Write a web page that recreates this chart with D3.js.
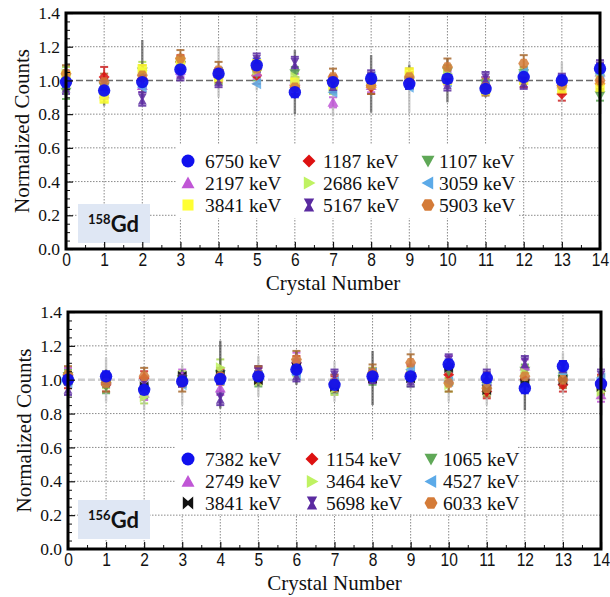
<!DOCTYPE html>
<html><head><meta charset="utf-8">
<script src="https://cdn.jsdelivr.net/npm/d3@7"></script>
<style>body{margin:0;background:#fff}svg{display:block}</style>
</head><body>
<script>
// ---------- DATA ----------
const crystals = [0,1,2,3,4,5,6,7,8,9,10,11,12,13,14];
const xTickValues = [0,1,2,3,4,5,6,7,8,9,10,11,12,13,14];
const yTickValues = [0.0,0.2,0.4,0.6,0.8,1.0,1.2,1.4];
const yMinorTicks = [0.05,0.1,0.15,0.25,0.3,0.35,0.45,0.5,0.55,0.65,0.7,0.75,0.85,0.9,0.95,1.05,1.1,1.15,1.25,1.3,1.35];
const xMinorTicks = [0.5,1.5,2.5,3.5,4.5,5.5,6.5,7.5,8.5,9.5,10.5,11.5,12.5,13.5];

// Panel 1: 158Gd
const topLabels = ["6750 keV","1187 keV","1107 keV","2197 keV","2686 keV","3059 keV","3841 keV","5167 keV","5903 keV"];
const topShapes = ["circle","diamond","triDown","triUp","triRight","triLeft","square","hourglass","hexagon"];
const topColors = ["#1010ee","#dd1111","#5fa857","#c056d6","#bff262","#5caae8","#ffff33","#5a2aa0","#d47b38"];
const topErrColors = ["#1010ee","#cc2222","#5fa857","#c056d6","#a8d850","#b8b8b8","#555555","#5a2aa0","#a8692e"];
const top6750 = [0.99,0.94,0.99,1.065,1.04,1.09,0.93,0.99,1.01,0.98,1.01,0.95,1.02,1.00,1.07];
const top1187 = [1.00,1.02,1.01,1.11,1.03,1.03,0.97,0.98,0.96,1.00,1.02,0.97,1.01,0.92,0.98];
const top1107 = [0.93,0.96,1.05,1.09,1.01,1.04,1.04,0.98,0.99,0.99,1.05,0.98,1.04,0.97,0.91];
const top2197 = [1.02,0.92,0.97,1.06,1.04,1.05,1.00,0.87,0.97,1.00,1.01,0.99,1.02,0.98,1.05];
const top2686 = [1.04,0.91,1.06,1.10,1.02,1.06,1.02,0.96,1.00,1.03,1.04,0.96,1.03,0.96,1.03];
const top3059 = [1.00,0.95,0.96,1.08,1.05,0.98,0.99,0.93,1.02,0.96,0.99,0.97,1.05,0.99,1.04];
const top3841 = [1.03,0.89,1.07,1.11,1.02,1.10,0.99,0.97,0.98,1.05,1.00,0.94,1.00,0.95,0.96];
const top5167 = [0.96,0.97,0.89,1.04,1.00,1.12,1.10,0.97,1.02,0.99,0.98,1.01,0.99,1.00,1.08];
const top5903 = [1.04,0.99,1.03,1.13,1.06,1.07,0.96,1.02,0.97,1.02,1.08,0.96,1.10,0.97,1.00];
const topErr6750 = [0.03,0.03,0.04,0.03,0.03,0.04,0.03,0.03,0.03,0.03,0.03,0.03,0.03,0.03,0.03];
const topErr1187 = [0.05,0.06,0.05,0.04,0.04,0.05,0.05,0.05,0.04,0.05,0.04,0.05,0.05,0.04,0.05];
const topErr1107 = [0.04,0.04,0.04,0.04,0.03,0.04,0.04,0.04,0.04,0.04,0.04,0.04,0.04,0.04,0.03];
const topErr2197 = [0.04,0.03,0.04,0.04,0.03,0.04,0.04,0.03,0.04,0.04,0.04,0.03,0.04,0.04,0.04];
const topErr2686 = [0.04,0.04,0.05,0.04,0.04,0.04,0.04,0.04,0.04,0.04,0.04,0.04,0.04,0.04,0.04];
const topErr3059 = [0.04,0.05,0.04,0.04,0.15,0.04,0.04,0.14,0.04,0.15,0.04,0.04,0.04,0.12,0.04];
const topErr3841 = [0.20,0.04,0.17,0.05,0.04,0.04,0.19,0.04,0.17,0.04,0.13,0.04,0.04,0.04,0.16];
const topErr5167 = [0.04,0.04,0.04,0.04,0.04,0.04,0.04,0.04,0.04,0.04,0.04,0.04,0.04,0.04,0.04];
const topErr5903 = [0.05,0.05,0.06,0.05,0.05,0.05,0.05,0.05,0.05,0.05,0.05,0.05,0.05,0.05,0.05];

// Panel 2: 156Gd
const botLabels = ["7382 keV","1154 keV","1065 keV","2749 keV","3464 keV","4527 keV","3841 keV","5698 keV","6033 keV"];
const botShapes = ["circle","diamond","triDown","triUp","triRight","triLeft","bowtie","hourglass","hexagon"];
const botColors = ["#1010ee","#dd1111","#5fa857","#c056d6","#bff262","#5caae8","#111111","#5a2aa0","#d47b38"];
const botErrColors = ["#1010ee","#cc2222","#5fa857","#c056d6","#a8d850","#bcbcbc","#444444","#5a2aa0","#a8692e"];
const bot7382 = [1.00,1.02,0.94,0.99,1.005,1.02,1.06,0.97,1.02,1.02,1.09,1.01,0.95,1.08,0.975];
const bot1154 = [0.99,0.97,1.01,1.00,1.02,1.03,1.10,0.98,1.03,1.04,1.03,0.93,1.00,0.97,0.99];
const bot1065 = [1.02,0.96,0.93,1.00,1.03,1.00,1.08,0.96,1.01,1.00,1.05,0.96,1.05,1.00,0.95];
const bot2749 = [1.03,1.00,0.92,1.02,0.95,1.04,1.12,0.99,1.02,1.05,1.10,0.99,1.08,1.02,0.91];
const bot3464 = [1.01,0.99,0.90,1.01,1.07,1.01,1.06,0.95,1.03,1.03,0.97,0.95,1.04,1.03,0.93];
const bot4527 = [0.98,1.00,0.95,0.97,1.00,1.02,1.03,0.99,1.04,1.06,0.99,0.97,0.99,1.04,1.01];
const bot3841 = [1.00,1.01,0.96,1.02,1.03,1.00,1.07,0.96,1.01,1.01,1.07,0.94,0.98,1.00,0.96];
const bot5698 = [0.95,1.00,0.97,1.00,0.89,1.04,1.03,1.02,1.02,1.00,1.11,1.02,1.10,1.07,1.02];
const bot6033 = [1.03,0.98,1.02,0.98,1.02,1.03,1.12,0.98,1.04,1.10,0.98,0.95,1.02,1.00,0.97];
const botErr7382 = [0.03,0.03,0.03,0.03,0.03,0.03,0.03,0.03,0.03,0.03,0.03,0.03,0.03,0.03,0.03];
const botErr1154 = [0.04,0.04,0.04,0.04,0.04,0.04,0.04,0.04,0.04,0.04,0.04,0.04,0.04,0.04,0.04];
const botErr1065 = [0.04,0.04,0.04,0.04,0.04,0.04,0.04,0.04,0.04,0.04,0.04,0.04,0.04,0.04,0.04];
const botErr2749 = [0.04,0.04,0.04,0.04,0.04,0.04,0.04,0.04,0.04,0.04,0.04,0.04,0.04,0.04,0.04];
const botErr3464 = [0.04,0.04,0.04,0.04,0.05,0.04,0.04,0.04,0.04,0.04,0.04,0.04,0.04,0.04,0.04];
const botErr4527 = [0.05,0.13,0.13,0.12,0.05,0.12,0.05,0.12,0.05,0.12,0.12,0.12,0.05,0.12,0.05];
const botErr3841 = [0.17,0.05,0.05,0.04,0.20,0.04,0.10,0.04,0.16,0.04,0.05,0.04,0.16,0.04,0.17];
const botErr5698 = [0.04,0.04,0.04,0.04,0.04,0.04,0.04,0.04,0.04,0.04,0.04,0.04,0.04,0.04,0.04];
const botErr6033 = [0.05,0.05,0.05,0.05,0.05,0.05,0.05,0.05,0.05,0.05,0.05,0.05,0.05,0.05,0.05];

const topValues = [top6750,top1187,top1107,top2197,top2686,top3059,top3841,top5167,top5903];
const topErrors = [topErr6750,topErr1187,topErr1107,topErr2197,topErr2686,topErr3059,topErr3841,topErr5167,topErr5903];
const botValues = [bot7382,bot1154,bot1065,bot2749,bot3464,bot4527,bot3841,bot5698,bot6033];
const botErrors = [botErr7382,botErr1154,botErr1065,botErr2749,botErr3464,botErr4527,botErr3841,botErr5698,botErr6033];

// ---------- DRAWING ----------
const W = 610, H = 597;
const svg = d3.select("body").append("svg").attr("width", W).attr("height", H);

function shapePath(shape, r) {
  switch (shape) {
    case "circle": return d3.symbol(d3.symbolCircle, Math.PI * r * r)();
    case "diamond": return `M0,${-r}L${r},0L0,${r}L${-r},0Z`;
    case "triDown": return `M${-r},${-r*0.8}L${r},${-r*0.8}L0,${r}Z`;
    case "triUp": return `M${-r},${r*0.8}L${r},${r*0.8}L0,${-r}Z`;
    case "triRight": return `M${-r*0.8},${-r}L${r},0L${-r*0.8},${r}Z`;
    case "triLeft": return `M${r*0.8},${-r}L${-r},0L${r*0.8},${r}Z`;
    case "square": return `M${-r*0.85},${-r*0.85}H${r*0.85}V${r*0.85}H${-r*0.85}Z`;
    case "hourglass": return `M${-r*0.8},${-r}H${r*0.8}L${r*0.25},0L${r*0.8},${r}H${-r*0.8}L${-r*0.25},0Z`;
    case "bowtie": return `M${-r*0.8},${-r}L0,${-r*0.3}L${r*0.8},${-r}V${r}L0,${r*0.3}L${-r*0.8},${r}Z`;
    case "hexagon": {
      const pts = d3.range(6).map(k => [r*Math.cos(k*Math.PI/3), r*Math.sin(k*Math.PI/3)]);
      return "M" + pts.map(p => p.join(",")).join("L") + "Z";
    }
  }
}

function panel(cfg) {
  const g = svg.append("g");
  const x = d3.scaleLinear().domain([0, 14]).range([cfg.x0, cfg.x1]);
  const y = d3.scaleLinear().domain([0, 1.4]).range([cfg.y1, cfg.y0]);

  // grid
  g.append("g").selectAll("line").data(xTickValues.slice(1, -1)).join("line")
    .attr("x1", d => x(d)).attr("x2", d => x(d)).attr("y1", cfg.y0).attr("y2", cfg.y1)
    .attr("stroke", "#8a8a8a").attr("stroke-width", 1).attr("stroke-dasharray", "1.5,1.5");
  g.append("g").selectAll("line").data(yTickValues.slice(1, -1).filter(v => Math.abs(v - 1) > 1e-6)).join("line")
    .attr("x1", cfg.x0).attr("x2", cfg.x1).attr("y1", d => y(d)).attr("y2", d => y(d))
    .attr("stroke", "#8a8a8a").attr("stroke-width", 1).attr("stroke-dasharray", "1.5,1.5");
  // reference line at 1.0
  g.append("line").attr("x1", cfg.x0).attr("x2", cfg.x1).attr("y1", y(1)).attr("y2", y(1))
    .attr("stroke", cfg.refColor).attr("stroke-width", cfg.refWidth).attr("stroke-dasharray", "7,3");

  // data: error bars and markers; blue series drawn last
  const order = [1,2,3,4,5,6,7,8,0];
  const errG = g.append("g");
  const capW = 4;
  order.forEach(i => {
    const vals = cfg.values[i], errs = cfg.errors[i];
    const wide = errs.some(e => e > 0.09);
    const sg = errG.append("g").attr("stroke", cfg.errColors[i])
      .attr("stroke-width", wide ? 2.4 : 2).attr("opacity", wide ? 0.7 : 0.85);
    sg.selectAll("line.bar").data(crystals).join("line").attr("class", "bar")
      .attr("x1", c => x(c)).attr("x2", c => x(c))
      .attr("y1", c => y(vals[c] - errs[c])).attr("y2", c => y(vals[c] + errs[c]));
    if (!wide) {
      sg.selectAll("line.capT").data(crystals).join("line").attr("class", "capT")
        .attr("x1", c => x(c) - capW).attr("x2", c => x(c) + capW)
        .attr("y1", c => y(vals[c] + errs[c])).attr("y2", c => y(vals[c] + errs[c]));
      sg.selectAll("line.capB").data(crystals).join("line").attr("class", "capB")
        .attr("x1", c => x(c) - capW).attr("x2", c => x(c) + capW)
        .attr("y1", c => y(vals[c] - errs[c])).attr("y2", c => y(vals[c] - errs[c]));
    }
  });
  const mkG = g.append("g");
  order.forEach(i => {
    const vals = cfg.values[i];
    const r = i === 0 ? 6.2 : 5.5;
    mkG.append("g").selectAll("path").data(crystals).join("path")
      .attr("d", shapePath(cfg.shapes[i], r))
      .attr("transform", c => `translate(${x(c)},${y(vals[c])})`)
      .attr("fill", cfg.colors[i]).attr("opacity", i === 0 ? 0.95 : 0.85);
  });

  // legend
  const lg = g.append("g");
  lg.append("rect").attr("x", cfg.legX0).attr("y", cfg.legY0).attr("width", 342).attr("height", 73).attr("fill", "#fff");
  cfg.labels.forEach((lab, i) => {
    const col = i % 3, row = Math.floor(i / 3);
    const mx = cfg.legMarkX[col], my = cfg.legRowY[row];
    lg.append("path").attr("d", shapePath(cfg.shapes[i], 6.5))
      .attr("transform", `translate(${mx},${my})`).attr("fill", cfg.colors[i]);
    lg.append("text").attr("x", cfg.legTextX[col]).attr("y", my + 6.5)
      .attr("font-family", "'Liberation Serif','Times New Roman',serif").attr("font-size", 19.5)
      .attr("fill", "#111").text(lab);
  });

  // isotope label
  g.append("rect").attr("x", 78).attr("y", cfg.isoY).attr("width", 72).attr("height", 39).attr("fill", "#dfe7f4");
  const t = g.append("text").attr("x", 88).attr("y", cfg.isoY + 27.5)
    .attr("font-family", "Lato, 'Liberation Sans', sans-serif").attr("font-weight", "bold").attr("fill", "#111");
  t.append("tspan").attr("font-size", 13).attr("dy", -8).text(cfg.isoMass);
  t.append("tspan").attr("font-size", 22).attr("dy", 8).text("Gd");

  // axes
  const yAxis = d3.axisLeft(y).tickValues(yTickValues).tickFormat(d3.format(".1f"))
    .tickSizeInner(-7).tickSizeOuter(0).tickPadding(6);
  const ya = g.append("g").attr("transform", `translate(${cfg.x0},0)`).call(yAxis);
  ya.select(".domain").remove();
  ya.selectAll("text").attr("font-family", "'Liberation Serif','Times New Roman',serif").attr("font-size", 17.5).attr("fill", "#111");
  ya.selectAll("line").attr("stroke", "#111").attr("stroke-width", 1.2);
  const yMinor = d3.axisLeft(y).tickValues(yMinorTicks).tickFormat("").tickSizeInner(-4).tickSizeOuter(0);
  const ym = g.append("g").attr("transform", `translate(${cfg.x0},0)`).call(yMinor);
  ym.select(".domain").remove();
  ym.selectAll("line").attr("stroke", "#111");

  const xAxis = d3.axisBottom(x).tickValues(xTickValues).tickFormat(d3.format("d"))
    .tickSizeInner(-7).tickSizeOuter(0).tickPadding(3);
  const xa = g.append("g").attr("transform", `translate(0,${cfg.y1})`).call(xAxis);
  xa.select(".domain").remove();
  xa.selectAll("text").attr("font-family", "'Liberation Sans',Arial,sans-serif").attr("font-size", 19)
    .attr("fill", "#111").attr("transform", "scale(0.82,1)");
  xa.selectAll("line").attr("stroke", "#111").attr("stroke-width", 1.2);
  const xMinor = d3.axisBottom(x).tickValues(xMinorTicks).tickFormat("").tickSizeInner(-4).tickSizeOuter(0);
  const xm = g.append("g").attr("transform", `translate(0,${cfg.y1})`).call(xMinor);
  xm.select(".domain").remove();
  xm.selectAll("line").attr("stroke", "#111");

  // frame
  g.append("rect").attr("x", cfg.x0).attr("y", cfg.y0).attr("width", cfg.x1 - cfg.x0).attr("height", cfg.y1 - cfg.y0)
    .attr("fill", "none").attr("stroke", "#000").attr("stroke-width", 3);

  // titles
  g.append("text").attr("transform", `translate(${cfg.x0 - 37},${(cfg.y0 + cfg.y1) / 2}) rotate(-90)`)
    .attr("text-anchor", "middle").attr("font-family", "'Liberation Serif','Times New Roman',serif")
    .attr("font-size", 21).attr("fill", "#111").text("Normalized Counts");
  g.append("text").attr("x", (cfg.x0 + cfg.x1) / 2).attr("y", cfg.y1 + 41)
    .attr("text-anchor", "middle").attr("font-family", "'Liberation Serif','Times New Roman',serif")
    .attr("font-size", 21).attr("fill", "#111").text("Crystal Number");
}

panel({x0: 66, x1: 600, y0: 13, y1: 249, values: topValues, errors: topErrors, labels: topLabels,
  shapes: topShapes, colors: topColors, errColors: topErrColors, refColor: "#6a6a6a", refWidth: 1.6,
  legX0: 176, legY0: 145, legMarkX: [188, 309, 428], legTextX: [205, 323, 439], legRowY: [161, 183, 205],
  isoY: 204, isoMass: "158"});
panel({x0: 68, x1: 601, y0: 312, y1: 549, values: botValues, errors: botErrors, labels: botLabels,
  shapes: botShapes, colors: botColors, errColors: botErrColors, refColor: "#cfcfcf", refWidth: 2.6,
  legX0: 176, legY0: 441, legMarkX: [188, 312, 431], legTextX: [205, 326, 443], legRowY: [459, 481.5, 503],
  isoY: 500, isoMass: "156"});
</script>
</body></html>
